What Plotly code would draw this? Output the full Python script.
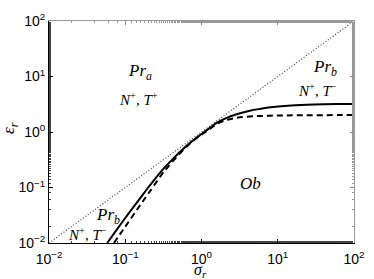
import plotly.graph_objects as go

# data
sigma_solid = [0.058, 0.08, 0.1, 0.15, 0.2, 0.3, 0.41, 0.55, 0.72, 1.0, 1.3, 1.6, 2.0, 2.75, 4.3, 6.0, 8.7, 15, 30, 60, 100]
eps_solid = [0.0100, 0.0185, 0.0282, 0.059, 0.100, 0.200, 0.315, 0.47, 0.65, 0.92, 1.20, 1.47, 1.72, 2.05, 2.42, 2.62, 2.82, 3.0, 3.12, 3.18, 3.2]
sigma_dashed = [0.071, 0.1, 0.15, 0.2, 0.3, 0.35, 0.45, 0.6, 0.8, 1.0, 1.3, 1.6, 2.0, 2.75, 4.3, 8, 20, 100]
eps_dashed = [0.0100, 0.0197, 0.044, 0.077, 0.17, 0.222, 0.33, 0.50, 0.72, 0.89, 1.15, 1.40, 1.60, 1.78, 1.90, 1.97, 2.0, 2.02]
diag = [0.01, 100]
tick_vals = [0.01, 0.1, 1, 10, 100]
tick_text = ["10<sup>−2</sup>", "10<sup>−1</sup>", "10<sup>0</sup>", "10<sup>1</sup>", "10<sup>2</sup>"]

serif = "Liberation Serif"
fig = go.Figure()
fig.add_trace(go.Scatter(x=diag, y=diag, mode="lines",
                         line=dict(color="#444", width=1.2, dash="1px,2px"), showlegend=False))
fig.add_trace(go.Scatter(x=sigma_dashed, y=eps_dashed, mode="lines",
                         line=dict(color="black", width=2, dash="6px,4px", shape="spline"), showlegend=False))
fig.add_trace(go.Scatter(x=sigma_solid, y=eps_solid, mode="lines",
                         line=dict(color="black", width=2, shape="spline"), showlegend=False))

axis_common = dict(type="log", range=[-2, 2], tickvals=tick_vals, ticktext=tick_text,
                   ticks="inside", ticklen=4, tickcolor="black", showgrid=False, zeroline=False,
                   showline=True, linecolor="black", linewidth=1, automargin=False,
                   tickfont=dict(family="Liberation Sans", size=14, color="black"),
                   minor=dict(ticks="inside", ticklen=2, tickcolor="#444", showgrid=False))
sec_common = dict(type="log", range=[-2, 2], tickvals=tick_vals, showticklabels=False,
                  ticks="inside", ticklen=4, tickcolor="#888", automargin=False,
                  showline=True, linecolor="#999", showgrid=False, zeroline=False,
                  minor=dict(ticks="inside", ticklen=2, tickcolor="#999"))
fig.update_layout(
    width=374, height=279, margin=dict(l=49, r=20, t=21, b=36),
    plot_bgcolor="white", paper_bgcolor="white",
    xaxis=dict(**axis_common, ticklabelstandoff=3),
    yaxis=dict(**axis_common),
    xaxis2=dict(**sec_common, overlaying="x", side="top"),
    yaxis2=dict(**sec_common, overlaying="y", side="right"),
)
# dummy trace to activate secondary axes
fig.add_trace(go.Scatter(x=[None], y=[None], xaxis="x2", yaxis="y2", showlegend=False))

# axis titles
fig.add_annotation(x=0.498, y=-0.125, xref="paper", yref="paper", text="<i>σ<sub>r</sub></i>",
                   showarrow=False, yanchor="middle", borderpad=0,
                   font=dict(family=serif, size=16, color="black"))
fig.add_annotation(x=-0.128, y=0.518, xref="paper", yref="paper", text="<i>ε<sub>r</sub></i>",
                   showarrow=False, textangle=-90, xanchor="center",
                   font=dict(family=serif, size=17, color="black"))

def ann(x, y, text, size):
    fig.add_annotation(x=x, y=y, xref="x", yref="y", text=text, showarrow=False,
                       font=dict(family=serif, size=size, color="black"))

ann(-0.807, 1.081, "<i>Pr<sub>a</sub></i>", 17)
ann(-0.82, 0.595, "<i>N</i><sup>+</sup>, <i>T</i><sup>+</sup>", 15)
ann(1.62, 1.153, "<i>Pr<sub>b</sub></i>", 17)
ann(1.515, 0.757, "<i>N</i><sup>+</sup>, <i>T</i><sup>−</sup>", 15)
ann(0.649, -0.92, "<i>Ob</i>", 17)
ann(-1.226, -1.51, "<i>Pr<sub>b</sub></i>", 17)
ann(-1.49, -1.84, "<i>N</i><sup>+</sup>, <i>T</i><sup>−</sup>", 15)

fig.write_html("out.html", config={"displayModeBar": False},
               post_script="document.body.style.margin='0';document.body.style.overflow='hidden';")
